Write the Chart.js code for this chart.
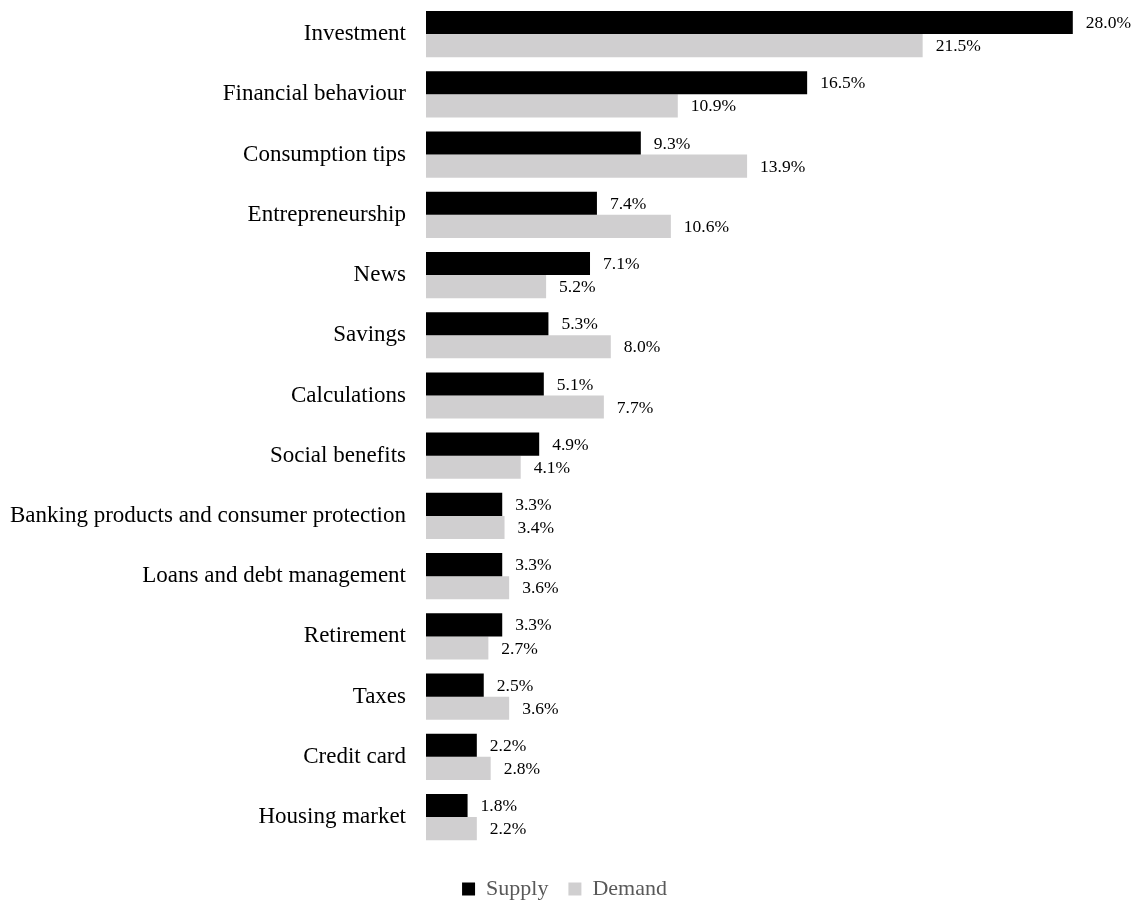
<!DOCTYPE html>
<html>
<head>
<meta charset="utf-8">
<script src="https://cdn.jsdelivr.net/npm/chart.js@4"></script>
<style>
  html, body { margin: 0; padding: 0; background: #fff; }
  #wrap { width: 1141px; height: 902px; position: relative; }
</style>
</head>
<body>
<div id="wrap"><canvas id="topicChart"></canvas></div>
<script>
// Topics and shares (%)
const topics = [
    "Investment", "Financial behaviour", "Consumption tips", "Entrepreneurship",
    "News", "Savings", "Calculations", "Social benefits",
    "Banking products and consumer protection", "Loans and debt management",
    "Retirement", "Taxes", "Credit card", "Housing market"
];
const supply = [28.0, 16.5, 9.3, 7.4, 7.1, 5.3, 5.1, 4.9, 3.3, 3.3, 3.3, 2.5, 2.2, 1.8];
const demand = [21.5, 10.9, 13.9, 10.6, 5.2, 8.0, 7.7, 4.1, 3.4, 3.6, 2.7, 3.6, 2.8, 2.2];

const serif = "'Liberation Serif', 'Times New Roman', serif";

// Draw the value next to each bar
const valueLabels = {
    id: "valueLabels",
    afterDatasetsDraw(chart) {
        const ctx = chart.ctx;
        ctx.save();
        ctx.font = "17.5px " + serif;
        ctx.fillStyle = "#000";
        ctx.textAlign = "left";
        ctx.textBaseline = "middle";
        chart.data.datasets.forEach((ds, i) => {
            chart.getDatasetMeta(i).data.forEach((bar, j) => {
                ctx.fillText(ds.data[j].toFixed(1) + "%", bar.x + 13, bar.y + 1);
            });
        });
        ctx.restore();
    }
};

const ctx = document.getElementById("topicChart").getContext("2d");

new Chart(ctx, {
    type: "bar",
    data: {
        labels: topics,
        datasets: [
            { label: "Supply", data: supply, backgroundColor: "#000000" },
            { label: "Demand", data: demand, backgroundColor: "#d0cfd0" }
        ]
    },
    options: {
        indexAxis: "y",
        responsive: true,
        maintainAspectRatio: false,
        animation: false,
        categoryPercentage: 0.767,
        barPercentage: 1.0,
        layout: { padding: { top: 4, right: 22, left: 10, bottom: -8 } },
        scales: {
            x: {
                min: 0,
                max: 30,
                border: { display: false },
                grid: { display: false, drawTicks: false },
                ticks: {
                    color: "rgba(0,0,0,0)",
                    padding: 0,
                    font: { size: 9 }
                }
            },
            y: {
                border: { display: false },
                grid: { display: false, drawTicks: false },
                afterFit(scale) {
                    scale.width = 416;
                    scale.paddingTop = 0;
                    scale.paddingBottom = 0;
                },
                ticks: {
                    color: "#000",
                    padding: 20,
                    font: { family: serif, size: 23 }
                }
            }
        },
        plugins: {
            legend: {
                position: "bottom",
                labels: {
                    color: "#595959",
                    boxWidth: 13,
                    boxHeight: 13,
                    padding: 20,
                    font: { family: serif, size: 22 }
                }
            },
            tooltip: { enabled: false }
        }
    },
    plugins: [valueLabels]
});
</script>
</body>
</html>
